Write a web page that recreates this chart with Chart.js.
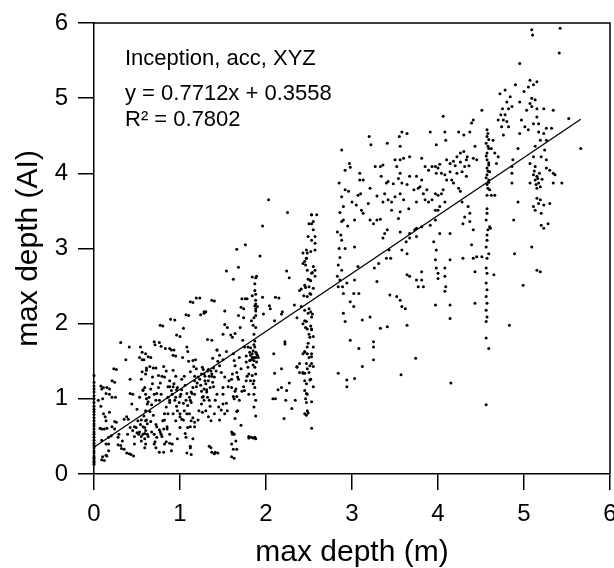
<!DOCTYPE html>
<html>
<head>
<meta charset="utf-8">
<script src="https://cdn.jsdelivr.net/npm/chart.js@4.4.1/dist/chart.umd.min.js"></script>
<style>
  html, body { margin: 0; padding: 0; background: #fff; }
  #wrap { width: 614px; height: 568px; }
</style>
</head>
<body>
<div id="wrap"><canvas id="depthChart" width="614" height="568"></canvas></div>
<script>
// ==============================
//  data
// ==============================
const xTicks = [0, 1, 2, 3, 4, 5, 6];
const yTicks = [0, 1, 2, 3, 4, 5, 6];

const xTitle = "max depth (m)";
const yTitle = "max depth (AI)";
const notes = ["Inception, acc, XYZ", "y = 0.7712x + 0.3558", "R\u00B2 = 0.7802"];

// fitted line end points
const fitX = [0, 5.66];
const fitY = [0.356, 4.72];

// points sitting on x = 0
const zeroColY = [0.13,0.15,0.17,0.2,0.22,0.24,0.28,0.31,0.35,0.38,0.41,0.45,0.49,0.53,0.56,0.6,0.64,0.67,0.71,0.75,0.79,0.83,0.86,0.9,0.95,1.0,1.04,1.09,1.13,1.17,1.22,1.31];

// x 0 - 1.5
const leftPts = [
  [0.31,1.75],[0.41,1.69],[0.54,1.69],[0.37,1.52],[0.26,1.39],[0.76,1.75],[0.78,1.70],[0.90,1.65],[0.93,1.65],[0.95,1.57],
  [1.08,1.69],[1.09,1.63],[0.60,1.60],[0.56,1.52],[0.66,1.55],[1.03,1.55],[1.15,1.51],[1.18,1.52],[1.15,2.28],[1.23,2.34],
  [1.40,2.30],[0.94,2.05],[1.10,2.11],[0.80,1.97],[1.00,1.83],[1.28,2.14],[1.30,2.16],[1.32,1.79],[1.43,1.65],[1.45,0.89],
  [1.43,1.06],[1.46,1.44],[1.42,1.37],[1.37,1.33],[1.40,1.29],[1.38,1.22],[1.33,1.24],[1.35,1.15],[1.30,1.20],[1.28,1.13],
  [1.31,1.09],[1.32,1.02],[1.34,0.98],[1.26,1.02],[1.28,0.98],[1.25,0.93],[1.22,0.84],[1.26,0.82],[1.30,0.84],[1.36,0.71],
  [1.40,0.80],[1.36,0.35],[1.40,0.27],[1.44,0.28],[1.36,1.37],[1.32,1.37],[1.28,1.33],[1.25,1.33],[1.26,1.42],[1.21,1.29],
  [1.17,1.24],[1.15,1.15],[1.13,1.09],[1.17,1.06],[1.11,1.02],[1.13,0.95],[1.07,0.98],[1.09,0.91],[1.05,0.84],[1.11,0.80],
  [1.15,0.75],[1.13,0.71],[1.17,0.69],[1.09,0.62],[1.07,0.49],[1.15,0.47],[1.12,0.35],[1.13,0.26],[1.01,1.06],[0.97,1.15],
  [0.93,1.20],[0.91,1.06],[0.95,1.02],[0.90,1.11],[0.86,1.02],[0.88,0.95],[0.84,0.89],[0.82,0.80],[0.80,0.71],[0.85,0.60],
  [0.81,0.60],[0.76,0.59],[0.78,0.53],[0.73,0.49],[0.88,0.53],[0.91,0.40],[0.82,0.40],[0.81,0.29],[0.90,0.31],[0.72,0.35],
  [0.70,0.40],[0.70,0.53],[0.97,0.84],[1.00,0.80],[1.02,0.73],[0.95,0.71],[1.00,0.62],[0.97,0.47],[0.75,1.15],[0.78,1.06],
  [0.76,0.98],[0.72,0.98],[0.70,1.06],[0.68,1.20],[0.66,1.13],[0.64,1.02],[0.62,0.93],[0.60,0.84],[0.60,0.71],[0.62,0.67],
  [0.59,0.62],[0.60,0.58],[0.62,0.53],[0.57,0.53],[0.59,0.47],[0.60,0.40],[0.59,0.35],[0.55,0.44],[0.52,0.53],[0.49,0.62],
  [0.51,0.71],[0.45,0.58],[0.42,0.62],[0.47,0.40],[0.53,1.02],[0.57,1.11],[0.60,1.06],[0.59,1.15],[0.60,1.33],[0.61,1.38],
  [0.68,1.29],[0.72,1.41],[0.84,1.37],[0.82,1.29],[0.88,1.24],[0.45,1.06],[0.44,0.93],[0.40,0.73],[0.35,0.73],[0.26,0.69],
  [0.24,0.60],[0.20,0.51],[0.17,0.49],[0.14,0.40],[0.12,0.60],[0.09,0.60],[0.14,0.71],[0.11,0.80],[0.18,0.82],[0.10,1.00],
  [0.09,1.13],[0.11,1.15],[0.18,1.13],[0.24,1.22],[0.25,1.02],[0.18,1.06],[0.17,0.31],[0.15,0.24],[0.12,0.18],[0.31,0.38],
  [0.35,0.33],[0.41,0.27],[0.46,0.24],[0.28,0.49],[0.29,0.53],[0.33,0.44],[0.39,0.53],
  [0.23,1.40],[0.21,1.24],[0.15,1.15],[0.08,1.17],[0.14,1.07],[0.21,1.02],[0.05,0.98],[0.08,0.90],[0.13,0.76],[0.07,0.61],
  [0.15,0.61],[0.21,0.63],[0.24,0.70],[0.09,0.45],[0.17,0.40],[0.10,0.23],[0.14,0.25],[0.09,0.19],[0.28,0.39],[0.32,0.34],
  [0.38,0.28],[0.43,0.26],[0.42,1.26],[0.42,1.07],[0.38,0.76],[0.50,0.86],[0.55,1.26],[0.57,1.12],[0.56,1.36],[0.61,1.41],
  [0.65,1.43],[0.69,1.41],[0.63,1.56],[0.75,1.31],[0.81,1.43],[0.79,1.30],[0.77,1.21],[0.73,1.07],[0.67,0.92],[0.61,1.00],
  [0.63,0.96],[0.65,0.83],[0.61,0.72],[0.55,0.72],[0.57,0.63],[0.59,0.54],[0.55,0.50],[0.47,0.50],[0.47,0.63],[0.53,0.56],
  [0.63,0.50],[0.67,0.56],[0.73,0.63],[0.77,0.56],[0.79,0.50],[0.71,0.43],[0.76,0.29],[0.84,0.43],[0.88,0.41],[0.85,0.63],
  [0.82,0.72],[0.86,0.80],[0.88,0.98],[0.92,1.16],[0.86,1.16],[0.96,1.12],[1.00,1.03],[0.96,0.90],[0.92,0.80],[1.00,0.76],
  [1.04,0.72],[1.08,0.80],[1.04,0.94],[1.12,0.98],[1.14,1.07],[1.08,1.07],[1.02,1.26],[1.05,1.30],[1.10,1.50],[1.16,1.43],
  [1.17,1.30],[1.19,1.16],[1.23,1.26],[1.25,1.10],[1.27,1.03],[1.31,1.12],[1.29,1.30],[1.27,1.39],[1.33,1.39],[1.37,1.30],
  [1.39,1.16],[1.41,0.98],[1.35,0.90],[1.33,0.76],[1.21,0.72],[1.17,0.63],[1.12,0.63],[1.06,0.54],[1.12,0.37],[1.08,0.28],
  [1.34,0.37],[1.37,0.29],[1.41,0.29],[1.46,0.72],[1.48,0.85],[1.37,1.78],[1.43,1.65],[1.38,1.54],[1.28,2.16],[1.24,2.12],
  [1.07,2.12],[1.12,2.29],[1.19,2.34],[1.37,2.31],[0.77,1.98],[0.89,2.06],[0.96,1.85],[1.04,1.94],[0.70,1.76],[0.71,1.72],
  [0.83,1.67],[0.88,1.67],[0.92,1.58],[0.56,1.62],[0.58,1.52],[0.53,1.55],[0.92,1.38],[0.95,1.30],[0.88,1.16],
  [1.20,1.21],[1.24,1.18],[1.29,1.24],[1.34,1.30],[1.39,1.41],[1.44,1.50],[1.46,1.58],[1.48,1.35],[1.19,1.40],[1.12,1.36],
  [1.06,1.18],[1.02,1.12],[0.99,0.95],[0.94,0.98],[0.69,0.78],[0.72,0.66],[0.66,0.70],[0.58,0.77],[0.54,0.66],[0.50,0.55]
];

// x 1.5 - 2.3, incl. the column near 1.87
const midPts = [
  [2.03,3.65],[2.25,3.48],[1.96,3.30],[1.66,2.99],[1.76,3.05],[1.93,2.90],[1.54,2.70],[1.68,2.75],[1.62,2.59],[2.24,2.70],
  [2.27,2.61],[1.84,2.62],[1.89,2.63],[1.52,2.17],[1.50,1.86],[1.52,1.99],[1.55,1.95],[1.59,1.85],[1.61,1.82],[1.64,1.87],
  [1.68,2.11],[1.70,1.95],[1.74,2.08],[1.72,2.33],[1.76,2.33],[1.78,2.33],[1.71,2.22],[1.74,2.20],[1.83,2.04],[1.85,1.98],
  [1.88,2.20],[1.88,2.39],[1.88,2.26],[1.84,2.37],[1.88,2.11],[1.90,2.23],[1.97,2.13],[1.96,2.35],[2.05,2.20],[2.04,2.24],
  [2.11,2.35],[2.15,2.34],[2.10,2.04],[2.18,2.13],[2.22,1.76],[2.22,1.73],[2.19,2.16],[2.09,1.60],[2.10,1.34],[2.08,1.00],
  [2.11,1.00],[2.18,1.40],[2.18,1.15],[2.14,1.12],[2.24,1.11],[2.23,0.98],[2.27,1.21],[2.21,0.74],
  [1.88,2.61],[1.87,2.53],[1.87,2.44],[1.88,2.31],[1.87,2.24],[1.88,2.17],[1.86,2.08],[1.88,1.95],[1.86,1.86],[1.87,1.77],
  [1.87,1.69],[1.88,1.62],[1.84,1.60],[1.90,1.58],[1.84,1.55],[1.86,1.55],[1.88,1.55],[1.91,1.55],[1.86,1.51],[1.89,1.49],
  [1.87,1.42],[1.88,1.33],[1.86,1.24],[1.87,1.15],[1.86,1.06],[1.88,0.98],[1.86,0.89],[1.88,0.77],[1.87,0.49],[1.88,0.47],
  [1.83,0.49],[1.75,1.69],[1.79,1.69],[1.81,1.62],[1.77,1.57],[1.77,1.49],[1.81,1.51],[1.79,1.42],[1.80,1.33],[1.82,1.24],
  [1.84,1.31],[1.85,1.20],[1.77,1.24],[1.80,1.06],[1.75,1.11],
  [1.62,1.60],[1.63,1.51],[1.64,1.44],[1.66,1.35],[1.67,1.29],[1.61,1.33],[1.57,1.24],[1.60,1.15],[1.65,1.13],[1.66,1.03],
  [1.63,1.00],[1.69,0.98],[1.67,0.84],[1.64,0.74],[1.61,0.53],[1.63,0.53],[1.65,0.44],[1.66,0.33],[1.63,0.21],[1.71,0.65],
  [1.52,1.29],[1.50,1.15],[1.50,1.06],[1.50,0.93],[1.52,0.80],[1.55,0.84],[1.54,0.94],[1.56,1.16],[1.60,1.26],[1.62,1.03],
  [1.64,1.10],[1.66,0.83],[1.60,0.56],[1.62,0.54],[1.60,0.40],[1.62,0.33],[1.60,0.23],[1.68,1.26],[1.72,1.10],[1.74,1.16],
  [1.78,1.30],[1.80,0.50],[1.80,0.48],[1.85,0.48],[1.54,1.63],[1.50,1.52],
  [1.82,1.58],[1.85,1.64],[1.83,1.52],[1.89,1.60],[1.85,1.45],[1.82,1.68],[1.86,1.72],[1.71,1.40],[1.69,1.55],[1.73,1.78]
];

// x 2.3 - 2.6, the column near 2.5
const col25Pts = [
  [2.33,2.25],[2.36,2.08],[2.39,2.44],[2.41,2.46],[2.46,2.78],[2.45,2.83],[2.43,2.80],[2.48,2.94],[2.47,2.87],[2.48,2.71],
  [2.49,2.59],[2.50,2.49],[2.46,2.48],[2.54,2.68],[2.52,2.57],[2.44,2.37],[2.48,2.36],[2.52,2.39],[2.50,2.20],[2.52,2.16],
  [2.54,2.13],[2.45,2.04],[2.43,2.00],[2.46,1.95],[2.48,1.93],[2.52,1.97],[2.53,1.93],[2.50,1.86],[2.51,1.82],[2.36,1.42],
  [2.39,1.35],[2.43,1.35],[2.45,1.34],[2.48,1.40],[2.50,1.35],[2.52,1.26],[2.45,1.24],[2.47,1.20],[2.45,1.11],[2.48,1.06],
  [2.46,1.00],[2.47,0.95],[2.48,0.84],[2.45,0.80],[2.47,0.78],[2.30,0.87],[2.34,0.98],[2.39,1.47],[2.36,1.43],[2.45,1.62],
  [2.43,1.60],[2.48,1.60],[2.48,1.69],[2.50,1.55],[2.53,1.60],[2.53,1.47],[2.51,1.44],[2.53,3.45],[2.53,3.33],[2.49,3.16],
  [2.53,3.45],[2.59,3.45],[2.55,3.36],[2.50,3.33],[2.55,3.25],[2.57,3.16],[2.53,3.11],[2.57,3.07],[2.47,2.98],[2.43,2.94],
  [2.52,2.96],[2.57,2.98],[2.47,2.87],[2.55,2.76],[2.57,2.71],[2.53,2.67],[2.57,2.63],[2.51,2.58],[2.45,2.51],[2.55,2.47],
  [2.51,2.40],[2.41,2.23],[2.45,2.18],[2.49,2.14],[2.53,2.09],[2.47,2.03],[2.53,1.92],[2.55,1.83],[2.49,1.74],[2.55,1.69],
  [2.45,1.63],[2.53,1.56],[2.47,1.47],[2.55,1.43],[2.43,1.34],[2.51,1.25],[2.55,1.16],[2.47,1.07],[2.53,0.96],[2.53,0.61],
  [2.49,0.81]
];

// x 2.8 - 4.5
const upperPts = [
  [2.88,4.31],[2.97,4.13],[2.98,4.08],[2.92,4.04],[3.09,4.00],[2.85,3.87],[2.92,3.78],[2.96,3.76],[2.88,3.69],[2.90,3.56],
  [2.86,3.48],[2.90,3.38],[2.88,3.36],[3.03,3.38],[2.83,3.22],[2.87,3.18],[2.88,3.11],[2.85,3.00],[2.92,3.00],[2.86,2.88],
  [2.84,2.78],[2.88,2.71],[2.83,2.63],[2.86,2.58],[2.84,2.49],[2.89,2.49],[2.94,2.54],[2.90,2.40],[3.02,2.40],[3.08,2.40],
  [2.98,2.29],[3.02,2.23],[2.90,2.14],[2.92,2.03],[2.98,1.78],[3.12,2.05],[3.21,2.09],[3.25,1.76],[3.08,1.67],[3.12,1.43],
  [2.84,1.34],[2.94,1.25],[2.94,1.16],[3.03,1.27],[3.25,1.69],[3.25,1.52],[3.33,1.94],[3.41,1.96],[3.57,1.32],[3.74,1.54],
  [4.15,1.21],[4.56,0.92],
  [3.09,3.91],[3.13,3.91],[3.10,3.73],[3.07,3.71],[3.05,3.58],[3.11,3.51],[3.13,3.47],[3.19,3.60],[3.21,3.80],[3.21,3.38],
  [3.25,3.33],[3.29,3.38],[3.33,3.39],[3.20,4.49],[3.22,4.38],[3.27,4.09],[3.33,4.09],[3.36,4.11],[3.34,3.96],[3.40,3.87],
  [3.42,3.89],[3.38,3.73],[3.42,3.65],[3.36,3.62],[3.46,3.51],[3.41,3.25],[3.38,3.20],[3.36,3.14],[3.43,2.98],[3.40,2.87],
  [3.45,2.87],[3.31,2.80],[3.26,2.74],[3.29,2.56],[3.03,3.02],[3.07,2.76],[3.03,2.58],[3.41,4.40],[3.50,4.18],[3.55,4.49],
  [3.58,4.55],[3.56,4.36],[3.64,4.53],[3.56,4.18],[3.52,4.09],[3.56,4.00],[3.54,3.93],[3.58,3.87],[3.64,3.85],[3.56,3.73],
  [3.50,3.69],[3.46,3.62],[3.60,3.65],[3.56,3.49],[3.54,3.40],[3.56,3.22],[3.66,3.53],[3.77,3.80],[3.75,3.62],[3.67,3.14],
  [3.63,3.09],[3.58,2.98],[3.64,2.93],[3.67,4.22],[3.60,4.20],[3.67,3.96],[3.44,2.38],[3.52,2.36],[3.56,2.31],[3.58,2.23],
  [3.62,2.20],[3.64,1.98],[3.64,2.65],[3.67,2.63],[3.75,2.58],[3.77,2.49],[3.81,2.58],[3.81,2.69],[3.83,2.49],[3.73,3.25],
  [3.67,3.20],[3.75,3.16],[3.75,3.27],[3.81,3.29],[3.91,3.31],[3.87,3.78],[3.83,3.73],[3.85,3.65],[3.89,3.62],[3.93,3.65],
  [3.97,3.73],[4.00,3.71],[4.04,3.73],[4.06,3.78],[3.81,3.91],[3.79,3.82],[3.75,3.96],[3.85,4.09],[3.89,4.04],[3.93,4.09],
  [3.97,4.09],[4.00,4.07],[3.98,4.00],[4.04,4.00],[4.08,3.98],[4.10,3.91],[3.81,4.20],[3.91,4.55],[3.98,4.38],[4.06,4.76],
  [4.08,4.55],[4.09,4.44],[4.10,4.18],[4.14,4.13],[4.18,4.16],[4.22,4.22],[4.26,4.27],[4.30,4.29],[4.24,4.55],[4.30,4.51],
  [4.37,4.55],[4.41,4.71],[4.39,4.67],[4.43,4.36],[4.41,4.20],[4.45,4.18],[4.33,4.18],[4.31,4.09],[4.28,4.02],[4.22,4.00],
  [4.14,4.02],[4.16,3.91],[4.33,3.96],[4.26,3.76],[4.24,3.80],[4.18,3.87],[4.08,3.62],[4.02,3.56],[3.97,3.51],[4.00,3.51],
  [3.97,3.38],[3.95,3.09],[3.98,2.98],[3.97,2.85],[3.98,2.74],[4.00,2.67],[4.00,2.60],[4.08,2.74],[4.08,2.63],[4.09,2.49],
  [4.08,2.43],[4.14,2.85],[4.02,3.20],[4.14,3.20],[3.97,2.25],[4.14,2.25],[4.14,2.07],[4.29,3.33],[4.31,3.42],[4.37,3.47],
  [4.37,3.36],[4.41,3.25],[4.39,3.05],[4.29,2.87],[4.41,2.87],[4.45,2.89],[4.43,2.69],[4.43,2.27],[4.51,2.89],[4.35,3.56],
  [4.28,3.62],[4.51,4.84],
  [4.20,4.10],[4.26,4.15],[4.34,4.22],[4.36,4.10],[4.02,4.12],[3.72,3.78],[3.48,3.86],[3.29,3.70],[3.00,3.62],[2.95,3.30]
];

// the column near 4.57
const col46Pts = [
  [4.57,4.58],[4.57,4.49],[4.56,4.40],[4.59,4.33],[4.57,4.27],[4.57,4.18],[4.59,4.11],[4.57,4.07],[4.60,4.02],[4.57,3.98],
  [4.59,3.91],[4.57,3.85],[4.60,3.78],[4.57,3.71],[4.62,3.71],[4.66,3.71],[4.62,4.33],[4.66,4.27],[4.70,4.22],[4.68,4.13],
  [4.64,4.44],[4.57,3.53],[4.57,3.47],[4.56,3.38],[4.60,3.29],[4.61,3.27],[4.57,3.18],[4.57,3.11],[4.56,3.02],[4.59,2.93],
  [4.57,2.87],[4.56,2.74],[4.57,2.67],[4.65,2.65],[4.56,2.54],[4.57,2.45],[4.56,2.36],[4.57,2.27],[4.56,2.18],[4.57,2.09],
  [4.56,2.03],[4.56,1.81],[4.59,1.67],
  [4.58,4.53],[4.59,4.45],[4.58,4.36],[4.56,4.23],[4.59,4.14],[4.58,4.03],[4.56,3.94],[4.59,3.88],[4.58,3.80],[4.58,3.25]
];

// x 4.7 - 5.7
const rightPts = [
  [4.70,4.71],[4.76,4.71],[4.72,5.06],[4.78,5.11],[4.84,5.02],[4.86,4.89],[4.82,4.86],[4.78,4.78],[4.80,4.69],[4.74,4.62],
  [4.82,4.62],[4.76,4.51],[4.90,5.18],[4.95,5.46],[4.95,4.95],[4.97,4.71],[4.95,4.53],[4.93,4.33],[4.87,4.18],[4.86,4.09],
  [4.86,4.00],[4.86,3.87],[4.88,3.38],[4.93,3.62],[4.89,2.93],[4.99,2.51],[4.83,1.98],[5.00,5.09],[5.05,5.15],[5.07,5.24],
  [5.11,5.18],[5.15,5.22],[5.09,5.91],[5.10,5.84],[5.42,5.93],[5.41,5.60],[5.09,5.00],[5.13,4.98],[5.07,4.93],[5.03,4.84],
  [5.09,4.89],[5.15,4.75],[5.11,4.66],[5.01,4.62],[5.05,4.58],[5.17,4.66],[5.17,4.55],[5.19,4.44],[5.13,4.36],[5.23,4.53],
  [5.26,4.44],[5.26,4.60],[5.32,4.60],[5.34,4.84],[5.23,4.86],[5.15,4.86],[5.24,4.31],[5.20,4.22],[5.26,4.18],[5.11,4.22],
  [5.07,4.13],[5.13,4.09],[5.11,3.98],[5.15,3.96],[5.13,3.91],[5.17,3.87],[5.07,3.87],[5.19,3.82],[5.15,3.80],[5.26,4.07],
  [5.30,4.04],[5.34,4.00],[5.36,3.98],[5.34,3.87],[5.44,3.87],[5.52,4.73],[5.66,4.33],[5.15,3.67],[5.19,3.65],[5.17,3.60],
  [5.11,3.56],[5.13,3.51],[5.23,3.58],[5.20,3.47],[5.30,3.60],[5.28,3.33],[5.20,3.31],[5.23,3.27],[5.09,3.02],[5.15,2.71],
  [5.19,2.69],
  [5.16,3.93],[5.18,4.00],[5.14,3.85],[5.21,3.92],[5.12,4.03],[4.80,4.95],[4.75,4.86],[4.73,4.78]
];

// ==============================
//  chart
// ==============================
const FONT = "'Liberation Sans', Arial, Helvetica, sans-serif";

const allPts = [
  ...zeroColY.map(y => [0, y]),
  ...leftPts, ...midPts, ...col25Pts, ...upperPts, ...col46Pts, ...rightPts
].map(p => ({ x: p[0], y: p[1] }));

// frame on top/right + the text block in the corner
const frameAndNotes = {
  id: "frameAndNotes",
  afterDraw(chart) {
    const { ctx, chartArea: a } = chart;
    ctx.save();
    ctx.strokeStyle = "#000";
    ctx.lineWidth = 1.5;
    ctx.beginPath();
    ctx.moveTo(a.left, a.top);
    ctx.lineTo(a.right, a.top);
    ctx.lineTo(a.right, a.bottom);
    ctx.stroke();

    ctx.fillStyle = "#000";
    ctx.font = "22px " + FONT;
    ctx.textBaseline = "alphabetic";
    ctx.fillText(notes[0], 125, 65);
    ctx.fillText(notes[1], 125, 100);
    ctx.fillText(notes[2], 125, 126);
    ctx.restore();
  }
};

const axisGrid = {
  drawOnChartArea: false,
  drawTicks: true,
  tickLength: 16,
  color: "#000",
  lineWidth: 1.5
};

new Chart(document.getElementById("depthChart"), {
  data: {
    datasets: [
      {
        type: "scatter",
        data: allPts,
        pointRadius: 1.5,
        pointHoverRadius: 1.5,
        backgroundColor: "#000",
        borderWidth: 0,
        clip: false
      },
      {
        type: "line",
        data: fitX.map((x, i) => ({ x, y: fitY[i] })),
        borderColor: "#000",
        borderWidth: 1.3,
        pointRadius: 0,
        fill: false
      }
    ]
  },
  options: {
    responsive: false,
    devicePixelRatio: 1,
    animation: false,
    layout: { padding: { top: 23, right: 4, left: 0, bottom: 0 } },
    plugins: {
      legend: { display: false },
      tooltip: { enabled: false }
    },
    scales: {
      x: {
        type: "linear",
        min: 0,
        max: 6,
        afterBuildTicks: s => { s.ticks = xTicks.map(v => ({ value: v })); },
        afterFit: s => { s.height = 94; s.paddingLeft = 0; s.paddingRight = 0; },
        grid: axisGrid,
        border: { display: true, color: "#000", width: 1.5 },
        ticks: { color: "#000", padding: 10, maxRotation: 0, font: { family: FONT, size: 24 } },
        title: {
          display: true, text: xTitle, color: "#000",
          font: { family: FONT, size: 30, lineHeight: 1 },
          padding: { top: 0, bottom: 0 }
        }
      },
      y: {
        type: "linear",
        min: 0,
        max: 6,
        afterBuildTicks: s => { s.ticks = yTicks.map(v => ({ value: v })); },
        afterFit: s => { s.width = 94; s.paddingTop = 0; s.paddingBottom = 0; },
        grid: axisGrid,
        border: { display: true, color: "#000", width: 1.5 },
        ticks: { color: "#000", padding: 10, font: { family: FONT, size: 24 } },
        title: {
          display: true, text: yTitle, color: "#000",
          font: { family: FONT, size: 30, lineHeight: 1 },
          padding: { top: 14, bottom: 0 }
        }
      }
    }
  },
  plugins: [frameAndNotes]
});
</script>
</body>
</html>
